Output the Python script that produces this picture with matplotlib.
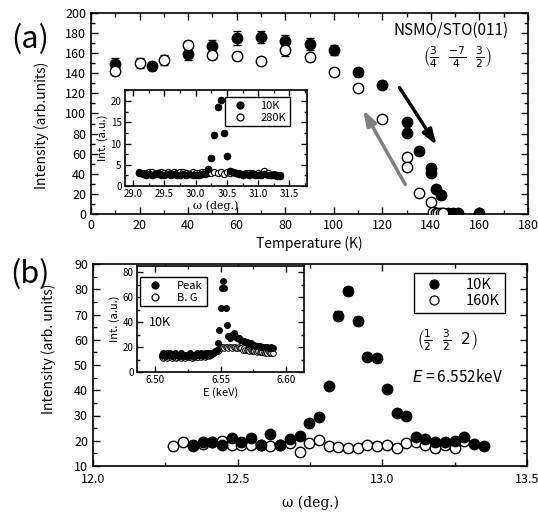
import matplotlib
matplotlib.use("Agg")
import matplotlib.pyplot as plt
from matplotlib.ticker import MultipleLocator, FormatStrFormatter
from matplotlib.lines import Line2D

plt.rcParams['font.family'] = ['Noto Sans CJK JP', 'DejaVu Sans']
plt.rcParams['mathtext.fontset'] = 'dejavusans'

# ---------------- Panel (a): temperature dependence ----------------
T_10 = [10, 25, 40, 50, 60, 70, 80, 90, 100, 110, 120, 130, 130, 135, 140, 140, 142, 144, 147, 149, 151, 160]
I_10 = [149, 147, 159, 167, 175, 176, 172, 169, 163, 141, 128, 92, 81, 63, 46, 41, 25, 19, 1, 1, 1, 1]
E_10 = [6, 4, 6, 6, 7, 6, 6, 6, 5, 4, 4, 3, 3, 3, 3, 3, 2, 2, 1, 1, 1, 1]

T_op = [10, 20, 30, 40, 50, 60, 70, 80, 90, 100, 110, 120, 130, 130, 135, 140, 141, 142, 143, 144, 145]
I_op = [142, 150, 153, 168, 158, 157, 152, 163, 156, 141, 125, 95, 57, 47, 21, 12, 2, 1, 1, 1, 1]
E_op = [4, 5, 5, 4, 4, 4, 3, 6, 4, 4, 4, 3, 3, 3, 3, 3, 1, 1, 1, 1, 1]

# inset (a): omega scans
w_in = [29.10, 29.15, 29.20, 29.25, 29.30, 29.35, 29.40, 29.45, 29.50, 29.55,
        29.60, 29.65, 29.70, 29.75, 29.80, 29.85, 29.90, 29.95, 30.00, 30.05,
        30.10, 30.15, 30.20, 30.25, 30.30, 30.35, 30.40, 30.45, 30.50, 30.55,
        30.60, 30.65, 30.70, 30.75, 30.80, 30.85, 30.90, 30.95, 31.00, 31.05,
        31.10, 31.15, 31.20, 31.25, 31.30, 31.35]
i_10K = [3.0, 2.8, 2.7, 2.9, 2.6, 2.8, 3.0, 2.5, 2.7, 2.9,
         2.6, 2.8, 2.5, 2.7, 2.9, 2.6, 2.8, 2.5, 2.7, 2.6,
         2.8, 2.9, 4.0, 6.5, 12.0, 18.5, 20.2, 12.4, 7.0, 3.6,
         3.2, 3.0, 2.8, 2.7, 2.9, 2.6, 2.8, 2.5, 2.7, 2.6,
         2.8, 2.5, 2.7, 2.6, 2.4, 2.4]
i_280K = [3.3, 3.1, 3.0, 3.2, 3.3, 2.9, 3.1, 3.3, 3.0, 3.2,
          3.1, 3.3, 3.0, 3.2, 3.3, 3.1, 2.9, 3.2, 3.0, 3.1,
          3.3, 3.2, 3.0, 3.1, 3.3, 3.0, 3.2, 2.9, 3.3, 3.1,
          3.2, 3.0, 3.1, 2.9, 3.0, 3.1, 3.0, 2.8, 3.0, 2.9,
          3.5, 3.0, 2.7, 2.8, 2.6, 2.5]

# ---------------- Panel (b): omega scans ----------------
w_10 = [12.345, 12.379, 12.412, 12.446, 12.479, 12.513, 12.546, 12.580, 12.613, 12.647,
        12.680, 12.714, 12.747, 12.781, 12.814, 12.848, 12.881, 12.915, 12.948, 12.982,
        13.015, 13.049, 13.082, 13.116, 13.149, 13.183, 13.216, 13.250, 13.283, 13.317, 13.350]
b_10 = [17.9, 19.6, 19.6, 18.3, 20.9, 19.6, 20.9, 18.3, 22.5, 18.3,
        20.5, 21.8, 27.1, 29.5, 41.6, 69.6, 79.3, 67.4, 53.2, 52.6,
        40.4, 31.1, 29.8, 21.3, 20.5, 19.6, 19.6, 20.0, 21.3, 18.6, 17.9]
be_10 = [0.8, 0.8, 0.8, 0.8, 0.8, 0.8, 0.8, 0.8, 0.8, 0.8,
         0.8, 0.8, 1.0, 1.0, 1.2, 1.6, 1.7, 1.6, 1.4, 1.4,
         1.2, 1.0, 1.0, 0.8, 0.8, 0.8, 0.8, 0.8, 0.8, 0.8, 0.8]
w_160 = [12.278, 12.312, 12.345, 12.379, 12.412, 12.446, 12.479, 12.513, 12.546, 12.580,
         12.613, 12.647, 12.680, 12.714, 12.747, 12.781, 12.814, 12.848, 12.881, 12.915,
         12.948, 12.982, 13.015, 13.049, 13.082, 13.116, 13.149, 13.183, 13.216, 13.250, 13.283]
b_160 = [17.9, 19.4, 18.3, 18.8, 19.5, 20.0, 18.5, 18.5, 18.5, 18.5,
         17.9, 18.3, 19.0, 15.7, 19.0, 20.4, 17.9, 17.6, 17.0, 17.3,
         18.3, 17.9, 18.3, 17.3, 19.0, 19.4, 18.3, 17.3, 18.3, 17.3, 20.0]

# inset (b): energy scans at 10K
E_keV = [6.505, 6.506, 6.507, 6.508, 6.509, 6.510, 6.511, 6.512, 6.513, 6.514,
         6.515, 6.516, 6.517, 6.518, 6.519, 6.520, 6.521, 6.522, 6.523, 6.524,
         6.525, 6.526, 6.527, 6.528, 6.529, 6.530, 6.531, 6.532, 6.533, 6.534,
         6.535, 6.536, 6.537, 6.538, 6.539, 6.540, 6.541, 6.542, 6.543, 6.544,
         6.545, 6.546, 6.547, 6.548, 6.549, 6.550, 6.551, 6.552, 6.553, 6.554,
         6.555, 6.556, 6.557, 6.558, 6.559, 6.560, 6.561, 6.562, 6.563, 6.564,
         6.565, 6.566, 6.567, 6.568, 6.569, 6.570, 6.571, 6.572, 6.573, 6.574,
         6.575, 6.576, 6.577, 6.578, 6.579, 6.580, 6.581, 6.582, 6.583, 6.584,
         6.585, 6.586, 6.587, 6.588, 6.589, 6.590]
peak = [14, 15, 14, 13, 15, 14, 15, 14, 13, 14,
        15, 14, 14, 13, 14, 15, 14, 13, 14, 14,
        13, 14, 15, 14, 14, 13, 14, 15, 14, 14,
        15, 14, 14, 15, 14, 15, 15, 14, 15, 15,
        16, 17, 18, 23, 34, 51, 67, 73, 67, 51,
        38, 29, 27, 28, 30, 31, 29, 28, 27, 27,
        26, 26, 25, 25, 24, 24, 23, 23, 23, 22,
        22, 22, 21, 21, 21, 21, 20, 20, 20, 20,
        20, 20, 19, 19, 20, 19]
bg = [12, 11, 12, 12, 11, 12, 13, 12, 11, 12,
      12, 11, 12, 13, 12, 11, 12, 12, 11, 12,
      12, 13, 12, 11, 12, 12, 13, 12, 12, 13,
      12, 13, 13, 12, 13, 14, 13, 14, 14, 15,
      15, 16, 17, 17, 18, 19, 20, 20, 19, 20,
      20, 19, 20, 20, 19, 20, 20, 19, 19, 20,
      19, 19, 18, 19, 18, 18, 18, 17, 18, 17,
      17, 17, 17, 16, 17, 16, 16, 16, 16, 15,
      16, 15, 16, 15, 15, 15]

W, H = 538, 512
fig = plt.figure(figsize=(W / 100, H / 100), dpi=100)


def rect(l, t, r, b):
    return [l / W, 1 - b / H, (r - l) / W, (b - t) / H]


def style(ax, size=9, maj=5, mn=3, pad=3.5):
    ax.tick_params(which='both', direction='in', top=True, right=True, labelsize=size, width=1, pad=pad)
    ax.tick_params(which='major', length=maj)
    ax.tick_params(which='minor', length=mn)
    for s in ax.spines.values():
        s.set_linewidth(1.2)


def handles(specs):
    return [Line2D([], [], ls='none', marker='o', ms=ms, mfc=fc, mec='black', mew=0.9)
            for fc, ms in specs]


def box_legend(ax, h, labels, loc, anchor, fs, **kw):
    lg = ax.legend(h, labels, loc=loc, bbox_to_anchor=anchor, fontsize=fs, frameon=True,
                   fancybox=False, edgecolor='black', borderaxespad=0, framealpha=1, **kw)
    lg.get_frame().set_linewidth(1)
    return lg


# ----- panel (a) -----
axa = fig.add_axes(rect(91, 13, 528, 214))
axa.errorbar(T_10, I_10, yerr=E_10, fmt='o', color='black', ms=7.5, mfc='black',
             mec='black', ecolor='black', elinewidth=1, capsize=3, zorder=3)
axa.errorbar(T_op, I_op, yerr=E_op, fmt='o', color='black', ms=7.5, mfc='white',
             mec='black', ecolor='black', elinewidth=1, capsize=3, zorder=4)
axa.set_xlim(0, 180)
axa.set_ylim(0, 200)
axa.xaxis.set_major_locator(MultipleLocator(20))
axa.xaxis.set_minor_locator(MultipleLocator(10))
axa.yaxis.set_major_locator(MultipleLocator(20))
axa.yaxis.set_minor_locator(MultipleLocator(10))
style(axa)
axa.set_xlabel('Temperature (K)', fontsize=10, labelpad=3)
axa.set_ylabel('Intensity (arb.units)', fontsize=10)
axa.yaxis.set_label_coords(-0.095, 0.44)
axa.annotate('', xy=(143, 66), xytext=(126.5, 128),
             arrowprops=dict(arrowstyle='-|>,head_length=0.9,head_width=0.3', color='black', lw=2.5))
axa.annotate('', xy=(111.5, 106), xytext=(130, 27),
             arrowprops=dict(arrowstyle='-|>,head_length=0.9,head_width=0.3', color='#808080', lw=2.5))
axa.text(172, 183, 'NSMO/STO(011)', ha='right', va='center', fontsize=11)
axa.text(151, 156, r'$\left(\frac{3}{4}\ \ \frac{-7}{4}\ \ \frac{3}{2}\right)$', ha='center', va='center', fontsize=11)
fig.text(30 / W, 1 - 40 / H, '(a)', fontsize=22, ha='center', va='center')

# inset (a)
axia = fig.add_axes(rect(125, 90, 307, 186))
axia.plot(w_in, i_280K, 'o', ms=4.5, mfc='white', mec='black', mew=0.8, zorder=2)
axia.plot(w_in, i_10K, 'o', ms=4.5, mfc='black', mec='black', zorder=3)
axia.set_xlim(28.87, 31.78)
axia.set_ylim(0, 22.6)
axia.xaxis.set_major_locator(MultipleLocator(0.5))
axia.xaxis.set_minor_locator(MultipleLocator(0.25))
axia.yaxis.set_major_locator(MultipleLocator(5))
axia.yaxis.set_minor_locator(MultipleLocator(2.5))
axia.xaxis.set_major_formatter(FormatStrFormatter('%.1f'))
style(axia, size=7, maj=4, mn=2, pad=2.5)
axia.set_xlabel('ω (deg.)', fontsize=8, labelpad=1, family=['DejaVu Serif'])
axia.set_ylabel('Int. (a.u.)', fontsize=8, labelpad=2)
box_legend(axia, handles([('black', 5), ('white', 5)]), ['10K', '280K'], 'upper right',
           (0.907, 0.927), 8, borderpad=0.35, handletextpad=0.8, labelspacing=0.15)

# ----- panel (b) -----
axb = fig.add_axes(rect(93, 264, 527, 466))
axb.errorbar(w_160, b_160, yerr=0.3, fmt='o', color='black', ms=7.5, mfc='white',
             mec='black', ecolor='black', elinewidth=0.8, capsize=3.5, zorder=3)
axb.errorbar(w_10, b_10, yerr=be_10, fmt='o', color='black', ms=7.5, mfc='black',
             mec='black', ecolor='black', elinewidth=1, capsize=3, zorder=4)
axb.set_xlim(12.0, 13.5)
axb.set_ylim(10, 90)
axb.xaxis.set_major_locator(MultipleLocator(0.5))
axb.xaxis.set_minor_locator(MultipleLocator(0.25))
axb.yaxis.set_major_locator(MultipleLocator(10))
axb.yaxis.set_minor_locator(MultipleLocator(5))
axb.xaxis.set_major_formatter(FormatStrFormatter('%.1f'))
style(axb)
axb.tick_params(axis='x', pad=5)
axb.set_xlabel('ω (deg.)', fontsize=10, labelpad=7, family=['DejaVu Serif'])
axb.set_ylabel('Intensity (arb. units)', fontsize=10)
axb.yaxis.set_label_coords(-0.085, 0.58)
box_legend(axb, handles([('black', 6.5), ('white', 6.5)]), ['10K', '160K'], 'upper right',
           (0.949, 0.955), 10.5, borderpad=0.35, handletextpad=1.2, labelspacing=0.1)
axb.text(13.225, 60, r'$\left(\frac{1}{2}\ \ \frac{3}{2}\ \ 2\right)$', ha='center', va='center', fontsize=11)
axb.text(13.104, 45.2, r'$E$ = 6.552keV', ha='left', va='center', fontsize=11)
fig.text(30 / W, 1 - 275 / H, '(b)', fontsize=22, ha='center', va='center')

# inset (b)
axib = fig.add_axes(rect(137, 266, 304, 372))
axib.plot(E_keV, bg, 'o', ms=4, mfc='white', mec='black', mew=0.7, zorder=2)
axib.plot(E_keV, peak, 'o', ms=4, mfc='black', mec='black', zorder=3)
axib.set_xlim(6.486, 6.614)
axib.set_ylim(0, 85)
axib.xaxis.set_major_locator(MultipleLocator(0.05))
axib.xaxis.set_minor_locator(MultipleLocator(0.025))
axib.yaxis.set_major_locator(MultipleLocator(20))
axib.yaxis.set_minor_locator(MultipleLocator(10))
axib.xaxis.set_major_formatter(FormatStrFormatter('%.2f'))
style(axib, size=7, maj=4, mn=2, pad=2.5)
axib.set_xlabel('E (keV)', fontsize=8, labelpad=1)
axib.set_ylabel('Int. (a.u.)', fontsize=8, labelpad=2)
box_legend(axib, handles([('black', 5), ('white', 5)]), ['Peak', 'B. G'], 'upper left',
           (0.018, 0.896), 8, borderpad=0.35, handletextpad=1.0, labelspacing=0.15)
axib.text(6.495, 40, '10K', fontsize=9, ha='left', va='center')

fig.savefig('out.png', dpi=100)
